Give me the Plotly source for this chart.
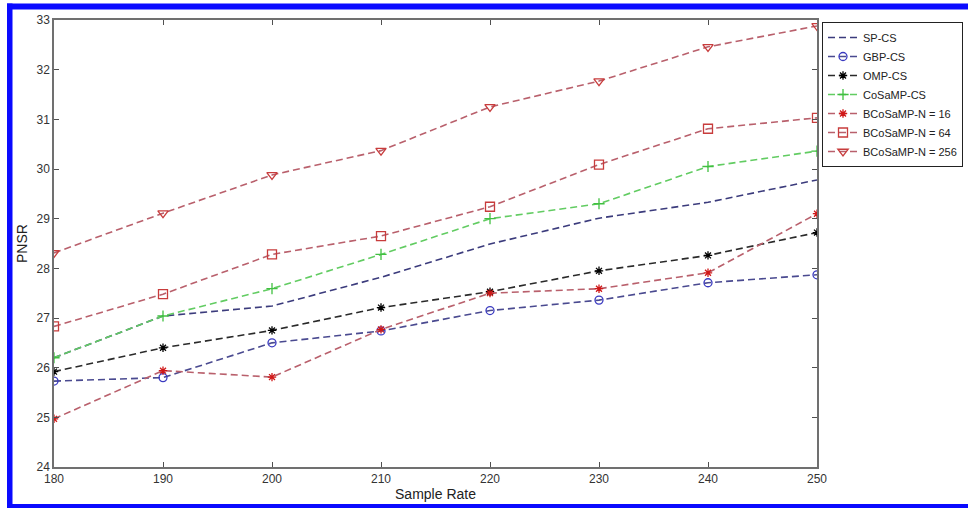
import plotly.graph_objects as go

sample_rate = [180, 190, 200, 210, 220, 230, 240, 250]

sp_cs = [26.20, 27.04, 27.24, 27.82, 28.49, 29.01, 29.33, 29.78]
gbp_cs = [25.73, 25.80, 26.50, 26.74, 27.15, 27.36, 27.71, 27.87]
omp_cs = [25.92, 26.40, 26.75, 27.21, 27.53, 27.95, 28.26, 28.72]
cosamp_cs = [26.20, 27.04, 27.59, 28.28, 29.00, 29.30, 30.05, 30.36]
bcosamp_16 = [24.97, 25.94, 25.81, 26.77, 27.50, 27.59, 27.91, 29.10]
bcosamp_64 = [26.83, 27.48, 28.28, 28.65, 29.24, 30.09, 30.81, 31.03]
bcosamp_256 = [28.31, 29.11, 29.88, 30.37, 31.25, 31.77, 32.46, 32.88]

series_names = ["SP-CS", "GBP-CS", "OMP-CS", "CoSaMP-CS",
                "BCoSaMP-N = 16", "BCoSaMP-N = 64", "BCoSaMP-N = 256"]

x_ticks = [180, 190, 200, 210, 220, 230, 240, 250]
y_ticks = [24, 25, 26, 27, 28, 29, 30, 31, 32, 33]

W, H = 968, 508
ML, MR, MT, MB = 54, 151, 20, 41
PW = W - ML - MR
PH = H - MT - MB


def pxx(p):
    return (p - ML) / PW


def pxy(p):
    return (H - MB - p) / PH


FONT = "Liberation Sans, Arial, sans-serif"
DASH = "7px,4px"

styles = [
    dict(line_color="#3b3b7c", symbol=None, mcolor=None),
    dict(line_color="#4a4a90", symbol="circle-open", mcolor="#3a3ac0", msize=8),
    dict(line_color="#2a2a2a", symbol="asterisk-open", mcolor="#000000", msize=7),
    dict(line_color="#62cc62", symbol="cross-thin-open", mcolor="#40c040", msize=8),
    dict(line_color="#b9606c", symbol="asterisk-open", mcolor="#d01818", msize=7),
    dict(line_color="#b9606c", symbol="square-open", mcolor="#c83c3c", msize=9),
    dict(line_color="#b9606c", symbol="triangle-down-open", mcolor="#c83c3c", msize=9),
]

data = [sp_cs, gbp_cs, omp_cs, cosamp_cs, bcosamp_16, bcosamp_64, bcosamp_256]

fig = go.Figure()
for name, vals, st in zip(series_names, data, styles):
    if st["symbol"] is None:
        fig.add_trace(go.Scatter(
            x=sample_rate, y=vals, name=name, mode="lines",
            line=dict(color=st["line_color"], width=1.6, dash=DASH),
        ))
    else:
        fig.add_trace(go.Scatter(
            x=sample_rate, y=vals, name=name, mode="lines+markers",
            line=dict(color=st["line_color"], width=1.6, dash=DASH),
            marker=dict(symbol=st["symbol"], size=st["msize"], color=st["mcolor"],
                        line=dict(color=st["mcolor"], width=1.3)),
        ))

axis_common = dict(
    showgrid=False, zeroline=False, showline=True, mirror="ticks",
    linecolor="#707070", linewidth=1.5, ticks="inside", ticklen=5,
    tickcolor="#505050", tickwidth=1.2,
    tickfont=dict(family=FONT, size=12, color="#333333"),
)

fig.update_layout(
    width=W, height=H,
    margin=dict(l=ML, r=MR, t=MT, b=MB, autoexpand=False),
    paper_bgcolor="white", plot_bgcolor="white",
    font=dict(family=FONT, color="#222222"),
    xaxis=dict(range=[180, 250], tickvals=x_ticks,
               title=dict(text="Sample Rate", font=dict(family=FONT, size=14, color="#222222"),
                          standoff=4),
               **axis_common),
    yaxis=dict(range=[24, 33], tickvals=y_ticks,
               title=dict(text="PNSR", font=dict(family=FONT, size=14, color="#222222"),
                          standoff=6),
               **axis_common),
    legend=dict(
        x=pxx(822), y=pxy(22), xanchor="left", yanchor="top",
        bgcolor="white", bordercolor="#222222", borderwidth=1,
        font=dict(family=FONT, size=11, color="#222222"),
        tracegroupgap=0,
    ),
    showlegend=True,
)

blue = "#0a0aff"
bands = [
    (7, 3.5, 970, 9.5),
    (7, 3.5, 12.5, 510),
    (7, 504, 970, 510),
]
for x0, y0, x1, y1 in bands:
    fig.add_shape(type="rect", xref="paper", yref="paper",
                  x0=pxx(x0), x1=pxx(x1), y0=pxy(y1), y1=pxy(y0),
                  fillcolor=blue, line=dict(width=0), layer="above")

fig.write_html(
    "out.html",
    config={"displayModeBar": False},
    post_script="document.body.style.margin='0';document.body.style.overflow='hidden';",
)
